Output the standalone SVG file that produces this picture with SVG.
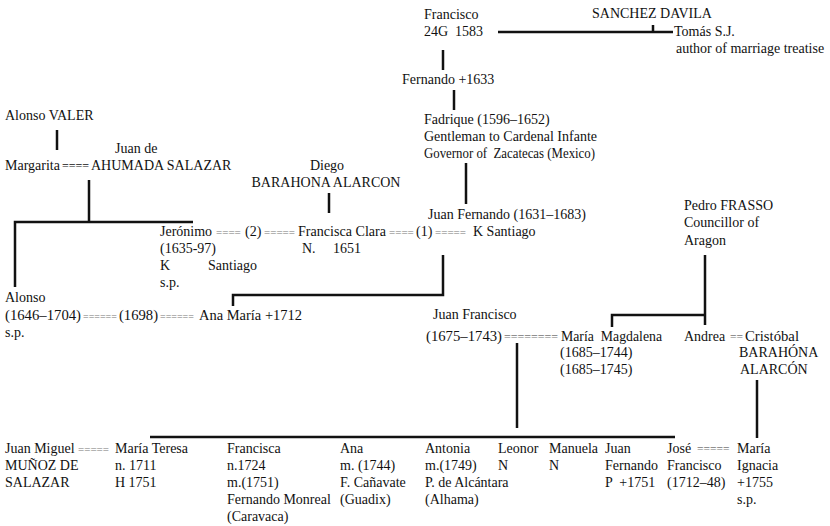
<svg xmlns="http://www.w3.org/2000/svg" width="830" height="526" viewBox="0 0 830 526" xml:space="preserve">
  <style>
    text { font-family: "Liberation Serif", "DejaVu Serif", serif; font-size: 14px; fill: #111; white-space: pre; }
    .eq { fill: #777; font-size: 11px; }
    .ln { stroke: #111; stroke-width: 2.5; fill: none; stroke-linecap: butt; }
  </style>
  <rect width="830" height="526" fill="#fff"/>

  <!-- connectors -->
  <g id="connectors">
    <path class="ln" d="M443 50V70"/>
    <path class="ln" d="M498 32H673M653 25V32"/>
    <path class="ln" d="M454 90V110"/>
    <path class="ln" d="M466 163V204"/>
    <path class="ln" d="M57 130V150"/>
    <path class="ln" d="M89 180V222M15 287V222H193"/>
    <path class="ln" d="M329 193V213"/>
    <path class="ln" d="M443 255V295H233V306"/>
    <path class="ln" d="M517 343V428"/>
    <path class="ln" d="M150 437H675"/>
    <path class="ln" d="M705 255V325M612 327V315H705"/>
    <path class="ln" d="M757 380V438"/>
  </g>

  <!-- top generations -->
  <g id="francisco">
    <text x="424" y="19">Francisco</text>
    <text x="424" y="36">24G  1583</text>
  </g>
  <g id="sanchez-davila">
    <text x="592" y="18">SANCHEZ DAVILA</text>
  </g>
  <g id="tomas">
    <text x="674" y="36">Tomás S.J.</text>
    <text x="676" y="53">author of marriage treatise</text>
  </g>
  <g id="fernando">
    <text x="402" y="84">Fernando +1633</text>
  </g>
  <g id="fadrique">
    <text x="424" y="124">Fadrique (1596–1652)</text>
    <text x="424" y="141">Gentleman to Cardenal Infante</text>
    <text x="424" y="158" textLength="171" lengthAdjust="spacingAndGlyphs">Governor of  Zacatecas (Mexico)</text>
  </g>

  <!-- left branch -->
  <g id="alonso-valer">
    <text x="5" y="120">Alonso VALER</text>
  </g>
  <g id="margarita">
    <text x="5" y="170">Margarita</text>
    <text x="62" y="170" style="font-size:12px">====</text>
  </g>
  <g id="juan-de-ahumada">
    <text x="115" y="153">Juan de</text>
    <text x="91" y="170">AHUMADA SALAZAR</text>
  </g>
  <g id="diego">
    <text x="327" y="170" text-anchor="middle">Diego</text>
    <text x="326" y="187" text-anchor="middle">BARAHONA ALARCON</text>
  </g>

  <g id="jeronimo">
    <text x="160" y="236">Jerónimo</text>
    <text x="216" y="236" class="eq">====</text>
    <text x="245" y="236">(2)</text>
    <text x="264" y="236" class="eq">=====</text>
    <text x="160" y="253">(1635-97)</text>
    <text x="160" y="270">K</text>
    <text x="208" y="270">Santiago</text>
    <text x="160" y="287">s.p.</text>
  </g>
  <g id="francisca-clara">
    <text x="298" y="236" textLength="88" lengthAdjust="spacingAndGlyphs">Francisca Clara</text>
    <text x="389" y="236" class="eq">====</text>
    <text x="416" y="236">(1)</text>
    <text x="435" y="236" class="eq">=====</text>
    <text x="302" y="253">N.</text>
    <text x="333" y="253">1651</text>
  </g>
  <g id="juan-fernando">
    <text x="428" y="219">Juan Fernando (1631–1683)</text>
    <text x="473" y="236">K Santiago</text>
  </g>

  <g id="alonso">
    <text x="5" y="302">Alonso</text>
    <text x="5" y="320" textLength="76" lengthAdjust="spacingAndGlyphs">(1646–1704)</text>
    <text x="83" y="320" class="eq" style="font-size:10px">======</text>
    <text x="119" y="320" textLength="39" lengthAdjust="spacingAndGlyphs">(1698)</text>
    <text x="160" y="320" class="eq" style="font-size:10px">======</text>
    <text x="5" y="337">s.p.</text>
  </g>
  <g id="ana-maria">
    <text x="199" y="320" textLength="103" lengthAdjust="spacingAndGlyphs">Ana María +1712</text>
  </g>

  <!-- right branch -->
  <g id="pedro-frasso">
    <text x="684" y="210">Pedro FRASSO</text>
    <text x="684" y="227">Councillor of</text>
    <text x="684" y="245">Aragon</text>
  </g>
  <g id="juan-francisco">
    <text x="433" y="319">Juan Francisco</text>
    <text x="426" y="341" textLength="76" lengthAdjust="spacingAndGlyphs">(1675–1743)</text>
    <text x="504" y="341" class="eq" style="font-size:12px">========</text>
  </g>
  <g id="maria-magdalena">
    <text x="561" y="341" textLength="101" lengthAdjust="spacingAndGlyphs">María  Magdalena</text>
    <text x="560" y="357">(1685–1744)</text>
    <text x="560" y="374">(1685–1745)</text>
  </g>
  <g id="andrea">
    <text x="684" y="341">Andrea</text>
    <text x="730" y="341" class="eq" style="font-size:11.5px">==</text>
  </g>
  <g id="cristobal">
    <text x="745" y="341" textLength="54" lengthAdjust="spacingAndGlyphs">Cristóbal</text>
    <text x="739" y="357">BARAHÓNA</text>
    <text x="740" y="374">ALARCÓN</text>
  </g>

  <!-- children -->
  <g id="juan-miguel">
    <text x="5" y="453">Juan Miguel</text>
    <text x="78" y="453" class="eq">=====</text>
    <text x="5" y="470">MUÑOZ DE</text>
    <text x="5" y="487">SALAZAR</text>
  </g>
  <g id="maria-teresa">
    <text x="115" y="453">María Teresa</text>
    <text x="115" y="470">n. 1711</text>
    <text x="115" y="487">H 1751</text>
  </g>
  <g id="francisca">
    <text x="227" y="453">Francisca</text>
    <text x="227" y="470">n.1724</text>
    <text x="227" y="487">m.(1751)</text>
    <text x="227" y="504">Fernando Monreal</text>
    <text x="227" y="521">(Caravaca)</text>
  </g>
  <g id="ana">
    <text x="340" y="453">Ana</text>
    <text x="340" y="470">m. (1744)</text>
    <text x="340" y="487">F. Cañavate</text>
    <text x="340" y="504">(Guadix)</text>
  </g>
  <g id="antonia">
    <text x="425" y="453">Antonia</text>
    <text x="425" y="470">m.(1749)</text>
    <text x="425" y="487">P. de Alcántara</text>
    <text x="425" y="504">(Alhama)</text>
  </g>
  <g id="leonor">
    <text x="498" y="453">Leonor</text>
    <text x="498" y="470">N</text>
  </g>
  <g id="manuela">
    <text x="549" y="453">Manuela</text>
    <text x="549" y="470">N</text>
  </g>
  <g id="juan-fernando-jr">
    <text x="605" y="453">Juan</text>
    <text x="605" y="470">Fernando</text>
    <text x="605" y="487">P  +1751</text>
  </g>
  <g id="jose-francisco">
    <text x="667" y="453">José</text>
    <text x="697" y="453" class="eq" style="font-size:11.5px">=====</text>
    <text x="667" y="470">Francisco</text>
    <text x="667" y="487">(1712–48)</text>
  </g>
  <g id="maria-ignacia">
    <text x="737" y="453">María</text>
    <text x="737" y="470">Ignacia</text>
    <text x="737" y="487">+1755</text>
    <text x="737" y="504">s.p.</text>
  </g>
</svg>
